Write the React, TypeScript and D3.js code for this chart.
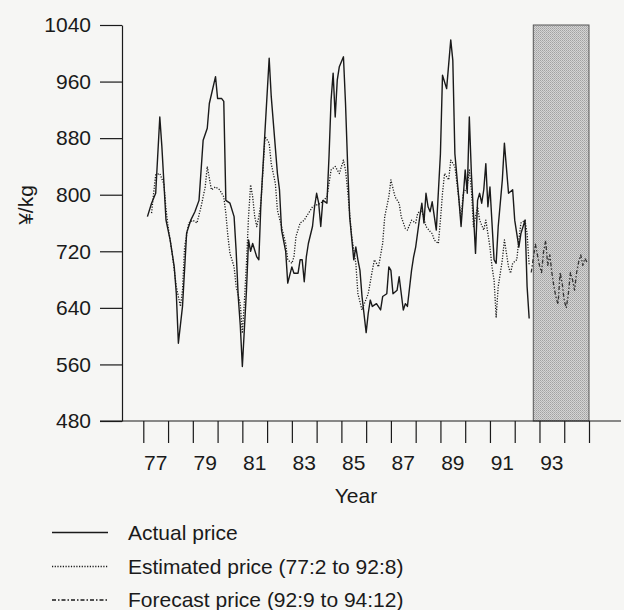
import * as React from 'react';
import * as d3 from 'd3';
import {useEffect, useRef} from 'react';

// monthly prices, "YY:M"
const actualMonths = ['77:3', '77:5', '77:7', '77:9', '77:10', '77:12', '78:2', '78:4', '78:5', '78:6', '78:8', '78:10', '78:12',
    '79:2', '79:4', '79:6', '79:8', '79:9', '79:12', '80:1', '80:3', '80:4', '80:5', '80:7', '80:9', '80:10', '80:11', '80:12',
    '81:1', '81:3', '81:4', '81:5', '81:6', '81:8', '81:9', '81:10', '81:12', '82:2', '82:3', '82:6', '82:7', '82:8', '82:10', '82:11',
    '83:1', '83:2', '83:4', '83:5', '83:6', '83:7', '83:8', '83:9', '83:11', '83:12', '84:1', '84:2', '84:3', '84:4', '84:6', '84:7',
    '84:8', '84:9', '84:10', '84:11', '84:12', '85:2', '85:3', '85:4', '85:5', '85:7', '85:8', '85:9', '85:10', '85:11', '86:1', '86:2',
    '86:3', '86:4', '86:6', '86:8', '86:9', '86:11', '86:12', '87:1', '87:2', '87:4', '87:5', '87:7', '87:8', '87:9', '87:11', '87:12',
    '88:1', '88:3', '88:4', '88:5', '88:6', '88:7', '88:8', '88:9', '88:11', '89:1', '89:2', '89:4', '89:6', '89:7', '89:8', '89:10',
    '89:11', '90:1', '90:2', '90:3', '90:4', '90:6', '90:7', '90:8', '90:9', '90:10', '90:11', '90:12', '91:1', '91:3', '91:4', '91:5',
    '91:7', '91:8', '91:10', '91:12', '92:1', '92:3', '92:4', '92:6', '92:7', '92:8'];
const actualValues = [769, 788, 802, 910, 868, 764, 736, 698, 660, 590, 642, 746, 764,
    776, 792, 877, 894, 929, 967, 936, 936, 932, 792, 788, 769, 720, 656, 615,
    557, 665, 736, 720, 731, 712, 708, 788, 891, 993, 939, 830, 807, 750, 720, 675,
    698, 689, 689, 708, 708, 677, 712, 731, 755, 783, 802, 788, 755, 792, 788, 854,
    934, 972, 910, 962, 981, 995, 929, 844, 769, 708, 726, 708, 693, 656, 605, 632,
    651, 642, 646, 637, 656, 660, 698, 693, 660, 665, 684, 637, 646, 642, 693, 712,
    726, 769, 788, 760, 802, 783, 776, 790, 750, 858, 969, 950, 1019, 990, 858, 792,
    755, 835, 802, 910, 830, 717, 792, 802, 788, 807, 844, 783, 811, 708, 703, 755,
    821, 873, 802, 807, 764, 726, 745, 764, 670, 625];

const estimatedMonths = ['77:5', '77:6', '77:7', '77:9', '77:11', '77:12', '78:1', '78:3', '78:5', '78:7', '78:8', '78:9', '78:11',
    '79:1', '79:3', '79:5', '79:7', '79:8', '79:10', '79:12', '80:2', '80:4', '80:5', '80:6', '80:7', '80:9', '80:10', '80:12',
    '81:1', '81:2', '81:3', '81:4', '81:5', '81:6', '81:7', '81:8', '81:9', '81:10', '81:11', '81:12', '82:2', '82:3', '82:5', '82:6',
    '82:8', '82:10', '82:11', '83:1', '83:2', '83:3', '83:5', '83:7', '83:8', '83:10', '83:11', '84:3', '84:6', '84:8', '84:10', '84:12',
    '85:2', '85:3', '85:4', '85:6', '85:8', '85:9', '85:11', '85:12', '86:2', '86:4', '86:5', '86:7', '86:9', '86:10', '86:12', '87:1',
    '87:3', '87:5', '87:6', '87:8', '87:9', '87:11', '88:1', '88:2', '88:4', '88:6', '88:8', '88:9', '88:10', '88:12', '89:1', '89:2',
    '89:3', '89:5', '89:6', '89:8', '89:10', '89:11', '89:12', '90:2', '90:3', '90:4', '90:5', '90:7', '90:8', '90:10', '90:11', '91:1',
    '91:2', '91:3', '91:4', '91:5', '91:7', '91:8', '91:10', '91:11', '91:12', '92:2', '92:3', '92:4', '92:6', '92:7', '92:8'];
const estimatedValues = [774, 802, 828, 830, 815, 780, 755, 717, 670, 642, 665, 726, 760,
    764, 760, 783, 811, 840, 807, 811, 807, 797, 774, 741, 717, 698, 670, 646,
    604, 650, 703, 769, 814, 797, 769, 755, 769, 788, 835, 882, 873, 844, 816, 778,
    755, 731, 708, 703, 712, 741, 760, 764, 769, 778, 783, 788, 797, 835, 840, 830,
    849, 835, 807, 741, 703, 660, 637, 645, 660, 693, 708, 698, 731, 769, 797, 821,
    797, 788, 769, 752, 750, 764, 760, 774, 778, 755, 748, 745, 736, 731, 764, 802,
    830, 821, 849, 840, 792, 764, 802, 811, 835, 807, 755, 783, 764, 750, 764, 726,
    698, 679, 627, 670, 708, 736, 698, 689, 703, 708, 736, 760, 764, 745, 700];

const forecastMonths = ['92:9', '92:10', '92:11', '92:12', '93:1', '93:2', '93:3', '93:4', '93:5', '93:6', '93:7', '93:8',
    '93:9', '93:10', '93:11', '93:12', '94:1', '94:2', '94:3', '94:4', '94:5', '94:6', '94:7', '94:8', '94:9', '94:10', '94:11', '94:12'];
const forecastValues = [690, 710, 730, 715, 700, 690, 720, 735, 700, 715, 690, 670,
    655, 645, 690, 675, 650, 640, 660, 690, 680, 665, 690, 705, 715, 700, 710, 705];

const yTicks = [480, 560, 640, 720, 800, 880, 960, 1040];
const yearTicks = [1977, 1978, 1979, 1980, 1981, 1982, 1983, 1984, 1985, 1986, 1987, 1988, 1989, 1990, 1991, 1992, 1993, 1994, 1995];
const yearLabels = ['77', '79', '81', '83', '85', '87', '89', '91', '93'];
const shadeFrom = '92:10';
const shadeTo = '95:1';
const legendLabels = ['Actual price', 'Estimated price (77:2 to 92:8)', 'Forecast price (92:9 to 94:12)'];

const FONT = '"Liberation Sans", Arial, sans-serif';
const INK = '#1a1a1a';
const dashes = [null, '1.2 1.5', '4 2 1.5 2'];

function parseMonth(s: string): number {
    const [y, m] = s.split(':').map(Number);
    return 1900 + y + (m - 1) / 12;
}

function zip(months: string[], values: number[]) {
    return months.map((m, i) => ({t: parseMonth(m), v: values[i]}));
}

export default function App() {
    const svgRef = useRef<SVGSVGElement>(null);

    useEffect(() => {
        const svg = d3.select(svgRef.current);
        svg.selectAll('*').remove();

        const x = d3.scaleLinear().domain([1977, 1995]).range([143.3, 589]);
        const y = d3.scaleLinear().domain([480, 1040]).range([421, 25]);

        // shaded forecast period
        const defs = svg.append('defs');
        const pat = defs.append('pattern').attr('id', 'grain').attr('width', 2).attr('height', 2)
            .attr('patternUnits', 'userSpaceOnUse');
        pat.append('rect').attr('width', 2).attr('height', 2).attr('fill', '#d4d4d4');
        pat.append('rect').attr('width', 1).attr('height', 1).attr('fill', '#a2a2a2');
        pat.append('rect').attr('x', 1).attr('y', 1).attr('width', 1).attr('height', 1).attr('fill', '#b2b2b2');
        svg.append('rect')
            .attr('x', x(parseMonth(shadeFrom))).attr('y', y(1040))
            .attr('width', x(parseMonth(shadeTo)) - x(parseMonth(shadeFrom)))
            .attr('height', y(480) - y(1040))
            .attr('fill', 'url(#grain)').attr('stroke', '#555').attr('stroke-width', 1);

        // y axis
        const yAxis = svg.append('g').attr('transform', `translate(${x.range()[0] - 21.3},0)`)
            .call(d3.axisLeft(y).tickValues(yTicks).tickFormat(d3.format('d')).tickSize(22).tickSizeOuter(0).tickPadding(9));
        yAxis.selectAll('path, line').attr('stroke', INK).attr('stroke-width', 1.2);
        yAxis.selectAll('text').attr('font-size', 21).attr('font-family', FONT).attr('fill', INK);

        // x axis
        svg.append('line').attr('x1', 100).attr('x2', 621).attr('y1', y(480)).attr('y2', y(480))
            .attr('stroke', INK).attr('stroke-width', 1.2);
        const xAxis = svg.append('g').attr('transform', `translate(0,${y(480)})`)
            .call(d3.axisBottom(x).tickValues(yearTicks).tickSize(22).tickFormat(() => ''));
        xAxis.select('.domain').remove();
        xAxis.selectAll('line').attr('stroke', INK).attr('stroke-width', 1.2);
        svg.append('g').selectAll('text').data(yearLabels).enter().append('text')
            .attr('x', (d: string) => x(1900 + +d + 0.5)).attr('y', 469.5)
            .attr('text-anchor', 'middle').attr('font-size', 21).attr('font-family', FONT).attr('fill', INK)
            .text((d: string) => d);
        svg.append('text').attr('x', 356).attr('y', 503).attr('text-anchor', 'middle')
            .attr('font-size', 21).attr('font-family', FONT).attr('fill', INK).text('Year');
        svg.append('text').attr('transform', 'translate(33,205) rotate(-90)').attr('text-anchor', 'middle')
            .attr('font-size', 21).attr('font-family', FONT).attr('fill', INK).text('¥/kg');

        // series
        const line = d3.line<{t: number, v: number}>().x(d => x(d.t)).y(d => y(d.v));
        const series = [zip(actualMonths, actualValues), zip(estimatedMonths, estimatedValues), zip(forecastMonths, forecastValues)];
        series.forEach((data, i) => {
            svg.append('path').datum(data).attr('d', line)
                .attr('fill', 'none').attr('stroke', i === 2 ? '#333' : INK)
                .attr('stroke-width', i === 0 ? 1.4 : 1.3)
                .attr('stroke-dasharray', dashes[i])
                .attr('stroke-linejoin', 'round');
        });

        // legend
        const legend = svg.append('g');
        const rowBase = [539.5, 573.5, 607];
        legendLabels.forEach((label, i) => {
            legend.append('line').attr('x1', 52).attr('x2', 108)
                .attr('y1', rowBase[i] - 7).attr('y2', rowBase[i] - 7)
                .attr('stroke', INK).attr('stroke-width', 1.3).attr('stroke-dasharray', dashes[i]);
            legend.append('text').attr('x', 128).attr('y', rowBase[i])
                .attr('font-size', 21).attr('font-family', FONT).attr('fill', INK).text(label);
        });
    }, []);

    return (
        <svg ref={svgRef} width={624} height={610}
             style={{position: 'absolute', left: 0, top: 0, background: '#f6f6f4'}}/>
    );
}
